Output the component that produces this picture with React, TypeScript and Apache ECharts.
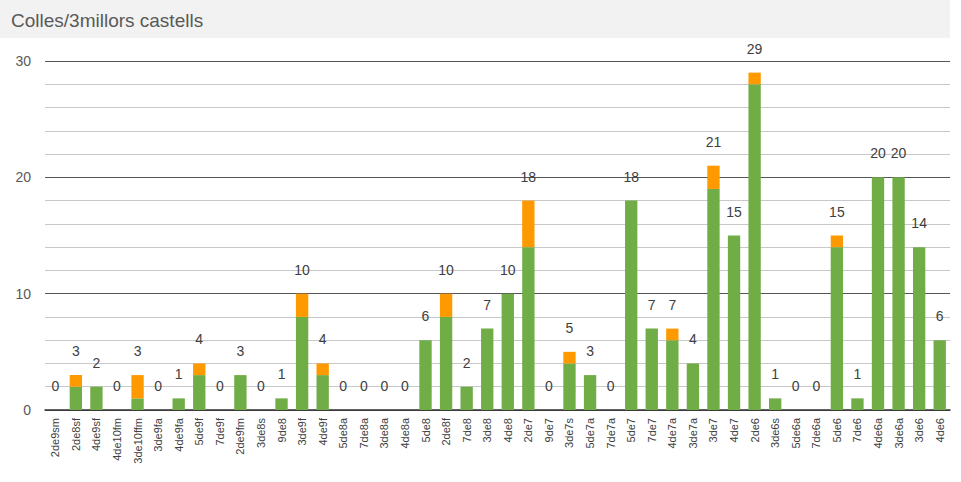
import React, { useEffect, useRef } from "react";
import * as echarts from "echarts";

const categories = [
  "2de9sm", "2de8sf", "4de9sf", "4de10fm", "3de10ffm", "3de9fa", "4de9fa", "5de9f", "7de9f", "2de9fm",
  "3de8s", "9de8", "3de9f", "4de9f", "5de8a", "7de8a", "3de8a", "4de8a", "5de8", "2de8f",
  "7de8", "3de8", "4de8", "2de7", "9de7", "3de7s", "5de7a", "7de7a", "5de7", "7de7",
  "4de7a", "3de7a", "3de7", "4de7", "2de6", "3de6s", "5de6a", "7de6a", "5de6", "7de6",
  "4de6a", "3de6a", "3de6", "4de6",
];
const greenValues = [
  0, 2, 2, 0, 1, 0, 1, 3, 0, 3,
  0, 1, 8, 3, 0, 0, 0, 0, 6, 8,
  2, 7, 10, 14, 0, 4, 3, 0, 18, 7,
  6, 4, 19, 15, 28, 1, 0, 0, 14, 1,
  20, 20, 14, 6,
];
const orangeValues = [
  0, 1, 0, 0, 2, 0, 0, 1, 0, 0,
  0, 0, 2, 1, 0, 0, 0, 0, 0, 2,
  0, 0, 0, 4, 0, 1, 0, 0, 0, 0,
  1, 0, 2, 0, 1, 0, 0, 0, 1, 0,
  0, 0, 0, 0,
];
const totals = greenValues.map((g, i) => g + orangeValues[i]);

const App = () => {
  const chartRef = useRef(null);

  useEffect(() => {
    const chart = echarts.init(chartRef.current, null, { renderer: "svg" });
    const font = "'Liberation Sans', Arial, sans-serif";
    chart.setOption({
      animation: false,
      textStyle: { fontFamily: font },
      title: {
        text: "Colles/3millors castells",
        left: 6,
        top: 6,
        textStyle: { fontSize: 19, fontWeight: "normal", color: "#595959", fontFamily: font },
      },
      graphic: [
        {
          type: "rect",
          left: 0,
          top: 0,
          z: -10,
          shape: { width: 950, height: 38 },
          style: { fill: "#f2f2f2" },
        },
      ],
      grid: { left: 45, right: 11, top: 61, bottom: 72 },
      xAxis: {
        type: "category",
        data: categories,
        axisTick: { show: false },
        axisLine: { lineStyle: { color: "#333", width: 1.5 } },
        axisLabel: { rotate: 90, fontSize: 11, color: "#404040", interval: 0, margin: 8 },
      },
      yAxis: {
        type: "value",
        min: 0,
        max: 30,
        interval: 2,
        axisLabel: {
          fontSize: 14,
          color: "#595959",
          margin: 14,
          formatter: (v: number) => (v % 10 === 0 ? String(v) : ""),
        },
        splitLine: {
          lineStyle: { color: ["#555", "#c8c8c8", "#c8c8c8", "#c8c8c8", "#c8c8c8"], width: 1 },
        },
      },
      series: [
        {
          name: "green",
          type: "bar",
          stack: "a",
          barWidth: "60%",
          itemStyle: { color: "#70ad47" },
          data: greenValues,
        },
        {
          name: "orange",
          type: "bar",
          stack: "a",
          itemStyle: { color: "#ff9900" },
          data: orangeValues,
          label: {
            show: true,
            position: "top",
            distance: 17,
            fontSize: 14,
            color: "#404040",
            formatter: (p: any) => String(totals[p.dataIndex]),
          },
        },
      ],
    });
    return () => chart.dispose();
  }, []);

  return (
    <div
      ref={chartRef}
      style={{ position: "absolute", left: 0, top: 0, width: 961, height: 482 }}
    />
  );
};

export default App;
